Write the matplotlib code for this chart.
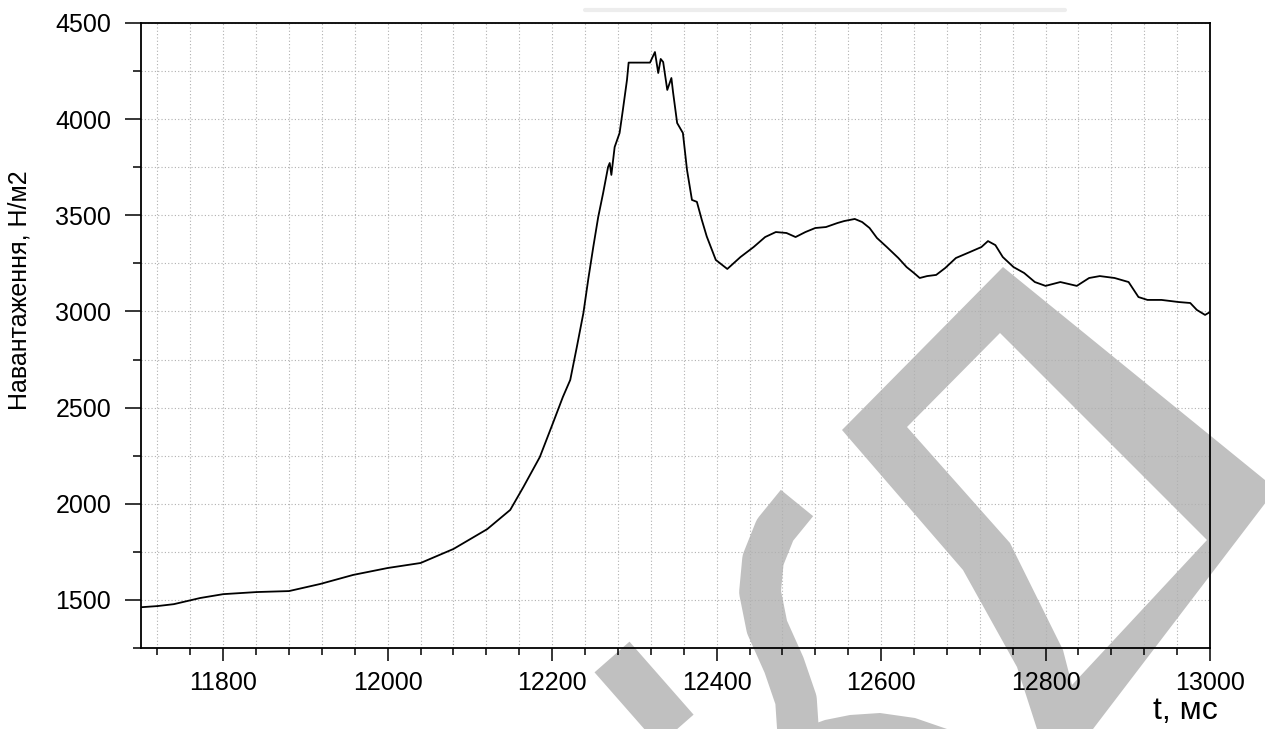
import numpy as np
import matplotlib
matplotlib.use("Agg")
import matplotlib.pyplot as plt
from matplotlib.ticker import MultipleLocator
from matplotlib.path import Path
from matplotlib.patches import PathPatch, Polygon
from matplotlib.lines import Line2D

plt.rcParams['font.family'] = ['Liberation Sans', 'DejaVu Sans']

# time, ms
t_ms = [11700, 11720, 11740, 11772, 11800, 11841, 11880, 11918, 11958, 12000,
        12040, 12080, 12121, 12149, 12165, 12185, 12201, 12213, 12222, 12230,
        12238, 12244, 12250, 12256, 12262, 12268, 12270, 12272, 12276, 12282,
        12286, 12291, 12293, 12319, 12325, 12329, 12332, 12335, 12340, 12345,
        12347, 12352, 12359, 12364, 12370, 12376, 12382, 12388, 12399, 12413,
        12429, 12445, 12459, 12472, 12485, 12496, 12508, 12520, 12533, 12547,
        12555, 12568, 12577, 12586, 12595, 12607, 12621, 12631, 12640, 12647,
        12656, 12667, 12678, 12691, 12708, 12722, 12730, 12739, 12748, 12761,
        12774, 12787, 12800, 12818, 12838, 12853, 12866, 12884, 12901, 12913,
        12924, 12941, 12962, 12976, 12984, 12994, 13000]
# load, N/m2
load = [1462, 1468, 1478, 1510, 1530, 1541, 1546, 1583, 1630, 1666,
        1692, 1765, 1868, 1968, 2087, 2243, 2420, 2555, 2644, 2815,
        2992, 3170, 3335, 3491, 3616, 3751, 3772, 3710, 3855, 3928,
        4048, 4204, 4294, 4294, 4349, 4240, 4313, 4297, 4152, 4214,
        4141, 3980, 3928, 3736, 3580, 3570, 3476, 3390, 3268, 3221,
        3283, 3335, 3387, 3413, 3408, 3387, 3413, 3434, 3439, 3460,
        3470, 3481, 3465, 3434, 3382, 3335, 3278, 3231, 3200, 3174,
        3184, 3190, 3226, 3278, 3309, 3335, 3366, 3345, 3283, 3231,
        3200, 3153, 3133, 3153, 3133, 3174, 3184, 3174, 3153, 3075,
        3060, 3060, 3049, 3044, 3008, 2982, 2997]

W, H = 1265, 729
fig = plt.figure(figsize=(W / 100, H / 100), dpi=100)


def P(x, y):
    return (x / W, 1 - y / H)


# watermark (gray strokes behind the chart)
wm = '#c0c0c0'
outer = [(1003, 267), (1276, 489), (1093, 729), (1085, 760), (1040, 760),
         (1037, 729), (1017, 667), (963, 570), (842, 430)]
inner = [(1000, 333), (907, 427), (1010, 543), (1063, 650), (1072, 685), (1207, 540)]
verts = [P(*v) for v in outer] + [P(*outer[0])] + [P(*v) for v in inner] + [P(*inner[0])]
codes = ([Path.MOVETO] + [Path.LINETO] * (len(outer) - 1) + [Path.CLOSEPOLY] +
         [Path.MOVETO] + [Path.LINETO] * (len(inner) - 1) + [Path.CLOSEPOLY])
fig.patches.append(PathPatch(Path(verts, codes), transform=fig.transFigure,
                             facecolor=wm, edgecolor='none', zorder=-2))

s_line = [(797, 503), (775, 530), (763, 560), (760, 592), (767, 627),
          (784, 665), (796, 700), (799, 745)]
fig.lines.append(Line2D([P(*p)[0] for p in s_line], [P(*p)[1] for p in s_line],
                        transform=fig.transFigure, color=wm, lw=30,
                        solid_capstyle='butt', solid_joinstyle='round', zorder=-2))
blob = [(790, 740), (800, 729), (825, 720), (850, 715), (880, 713), (915, 718),
        (947, 729), (960, 745)]
fig.patches.append(Polygon([P(*p) for p in blob], closed=True, transform=fig.transFigure,
                           facecolor=wm, edgecolor='none', zorder=-2))
diag = [(612, 657), (720, 780)]
fig.lines.append(Line2D([P(*p)[0] for p in diag], [P(*p)[1] for p in diag],
                        transform=fig.transFigure, color=wm, lw=33.5,
                        solid_capstyle='butt', zorder=-2))
fig.lines.append(Line2D([P(585, 10)[0], P(1065, 10)[0]], [P(585, 10)[1], P(1065, 10)[1]],
                        transform=fig.transFigure, color='#ededed', lw=3,
                        solid_capstyle='round', zorder=-2))

ax = fig.add_axes([141 / W, 81 / H, (1210 - 141) / W, (648 - 23) / H])
ax.patch.set_facecolor('none')

ax.plot(t_ms, load, color='black', lw=1.3, zorder=3)

ax.set_xlim(11700, 13000)
ax.set_ylim(1250, 4500)
ax.xaxis.set_major_locator(MultipleLocator(200))
ax.xaxis.set_minor_locator(MultipleLocator(40))
ax.yaxis.set_major_locator(MultipleLocator(500))
ax.yaxis.set_minor_locator(MultipleLocator(250))
ax.set_xticks([11800, 12000, 12200, 12400, 12600, 12800, 13000])
ax.set_yticks([1500, 2000, 2500, 3000, 3500, 4000, 4500])

ax.grid(which='both', color='#b0b0b0', linestyle=(0, (1, 2)), lw=0.8)
ax.set_axisbelow(True)

ax.tick_params(axis='x', which='major', length=9.5, width=1.1, pad=7, labelsize=18)
ax.tick_params(axis='x', which='minor', length=5, width=1.1)
ax.tick_params(axis='y', which='major', length=11.5, width=1.1, pad=10, labelsize=18)
ax.tick_params(axis='y', which='minor', length=5.8, width=1.1)
for s in ax.spines.values():
    s.set_linewidth(1.3)

fig.text(20 / W, 1 - 290 / H, 'Навантаження, Н/м2', rotation=90,
         ha='center', va='center', fontsize=18)
fig.text(1185 / W, 1 - 711 / H, 't, мс', ha='center', va='center', fontsize=23,
         family=['Liberation Sans Narrow', 'Liberation Sans', 'DejaVu Sans'])

fig.savefig('out.png', dpi=100)
